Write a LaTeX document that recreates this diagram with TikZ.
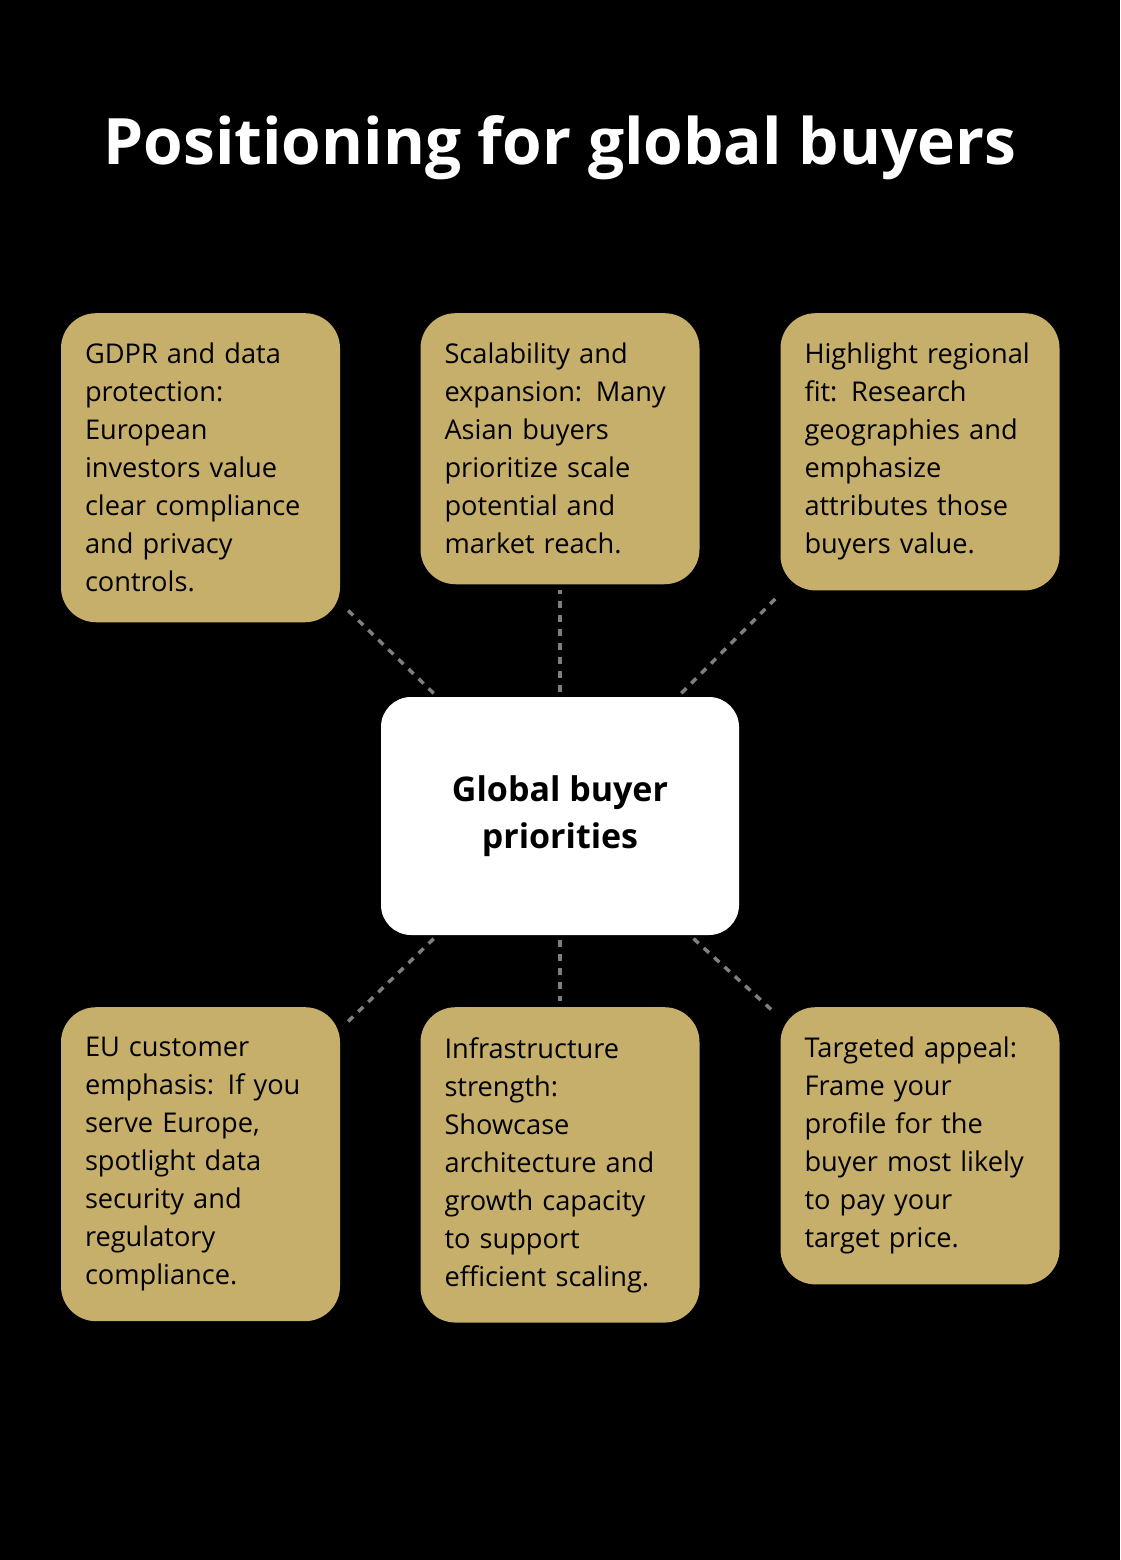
\documentclass[tikz,border=0pt]{standalone}
\usepackage{fontspec}
\setmainfont{Open Sans}
\usetikzlibrary{positioning}
\definecolor{gold}{HTML}{C6AE6B}
\definecolor{linkgray}{HTML}{7F7F7F}
\tikzset{
    card/.style={
    rectangle,rounded corners=35pt,fill=gold,anchor=north,
    text width=231pt,inner xsep=24pt,inner ysep=30pt,align=left,
    font=\fontsize{27.2}{38}\selectfont
    },
    hub/.style={
    rectangle,rounded corners=30pt,fill=white,minimum width=358pt,minimum height=238pt,
    align=center,font=\fontsize{34}{47}\selectfont\bfseries
    },
    link/.style={
    draw=linkgray,line width=3.5pt,dash pattern=on 7pt off 7pt,shorten >=6pt,shorten <=5pt
    },
}
\begin{document}
\begin{tikzpicture}[x=1pt,y=-1pt]
  \useasboundingbox (0,0) rectangle (1120,1560);
  \fill[black] (0,0) rectangle (1120,1560);
  \node[text=white,font=\fontsize{64}{70}\selectfont\bfseries] (title) at (560,148) {Positioning for global buyers};

  \node[hub] (C) at (560,816) {Global buyer\\priorities};

  \node[card] (GDPR) at (200.5,313) {GDPR and data\\protection:\\European\\investors value\\clear compliance\\and privacy\\controls.};
  \node[card] (SCALE) at (560,313) {Scalability and\\expansion: Many\\Asian buyers\\prioritize scale\\potential and\\market reach.};
  \node[card] (FIT) at (920,313) {Highlight regional\\fit: Research\\geographies and\\emphasize\\attributes those\\buyers value.};
  \node[card] (EU) at (200.5,1007) {EU customer\\emphasis: If you\\serve Europe,\\spotlight data\\security and\\regulatory\\compliance.};
  \node[card] (INFRA) at (560,1007) {Infrastructure\\strength:\\Showcase\\architecture and\\growth capacity\\to support\\efficient scaling.};
  \node[card] (TARGET) at (920,1007) {Targeted appeal:\\Frame your\\profile for the\\buyer most likely\\to pay your\\target price.};

  \foreach \n in {GDPR,SCALE,FIT,EU,INFRA,TARGET}
    \draw[link] (C) -- (\n);
\end{tikzpicture}
\end{document}
